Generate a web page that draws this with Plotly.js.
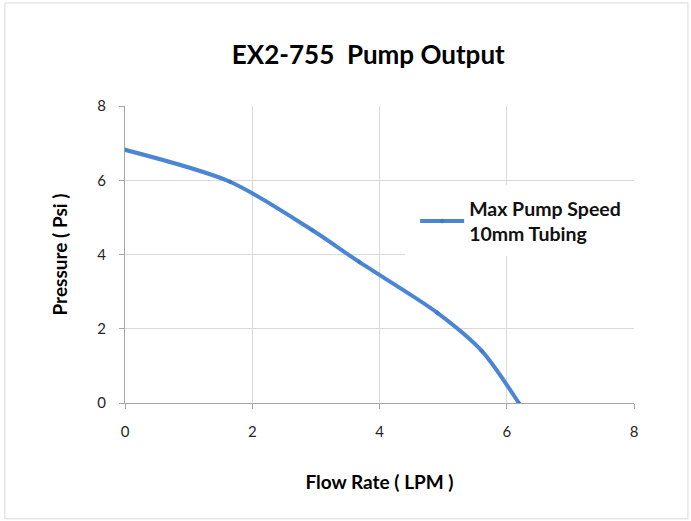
<!DOCTYPE html>
<html><head><meta charset="utf-8">
<script src="https://cdn.plot.ly/plotly-3.0.1.min.js"></script>
<style>html,body{margin:0;padding:0;background:#fff}#chart{width:691px;height:521px}</style>
</head><body><div id="chart"></div>
<script>
const flowRate = [0, 1.65, 2.94, 3.68, 4.91, 5.61, 6.19];
const pressure = [6.82, 5.96, 4.66, 3.80, 2.43, 1.40, 0];
const seriesName = '<b>Max Pump Speed<br>10mm Tubing</b>';
const chartTitle = 'EX2-755  Pump Output';
const xTitle = 'Flow Rate ( LPM )';
const yTitle = 'Pressure ( Psi )';
const tickVals = [0, 2, 4, 6, 8];

const font = 'Lato, "Open Sans", sans-serif';
const trace = {
  x: flowRate, y: pressure, name: seriesName, type: 'scatter', mode: 'lines+markers',
  line: {color: '#4a86d4', width: 4, shape: 'spline', smoothing: 0.8},
  marker: {color: '#3f7ac8', size: 4, symbol: 'diamond'}
};
const axisCommon = {
  range: [0, 8], tickvals: tickVals, showgrid: true, gridcolor: '#d9d9d9', gridwidth: 1,
  showline: true, linecolor: '#a6a6a6', ticks: 'outside', ticklen: 5, tickcolor: '#a6a6a6',
  zeroline: false, tickfont: {family: font, size: 15, color: '#262626'}, fixedrange: true
};
const layout = {
  width: 691, height: 521,
  margin: {l: 125, r: 57, t: 106, b: 118},
  paper_bgcolor: '#fff', plot_bgcolor: '#fff',
  title: {text: '<b>' + chartTitle + '</b>', font: {family: font, size: 26, color: '#000'}, x: 0.533, xanchor: 'center', y: 0.895, yanchor: 'middle'},
  xaxis: Object.assign({}, axisCommon, {ticklabelstandoff: 10, title: {text: '<b>' + xTitle + '</b>', font: {family: font, size: 19, color: '#000'}, standoff: 36}}),
  yaxis: Object.assign({}, axisCommon, {ticklabelstandoff: 10, title: {text: '<b>' + yTitle + '</b>', font: {family: font, size: 19, color: '#000'}, standoff: 24}}),
  showlegend: true,
  legend: {x: 0.57, y: 0.72, xanchor: 'left', yanchor: 'top', bgcolor: 'rgba(255,255,255,0)', borderwidth: 0,
    font: {family: font, size: 19.5, color: '#111'}, itemwidth: 44},
  shapes: [
    {type: 'rect', xref: 'paper', yref: 'paper', x0: -0.236, x1: 1.106, y0: -0.39, y1: 1.347,
      line: {color: '#d9d9d9', width: 1}, fillcolor: 'rgba(0,0,0,0)', layer: 'below'},
    {type: 'rect', xref: 'paper', yref: 'paper', x0: 0.55, x1: 1.03, y0: 0.495, y1: 0.735,
      line: {width: 0}, fillcolor: '#ffffff', layer: 'above'}
  ]
};
Plotly.newPlot('chart', [trace], layout, {displayModeBar: false, staticPlot: true});
</script></body></html>
